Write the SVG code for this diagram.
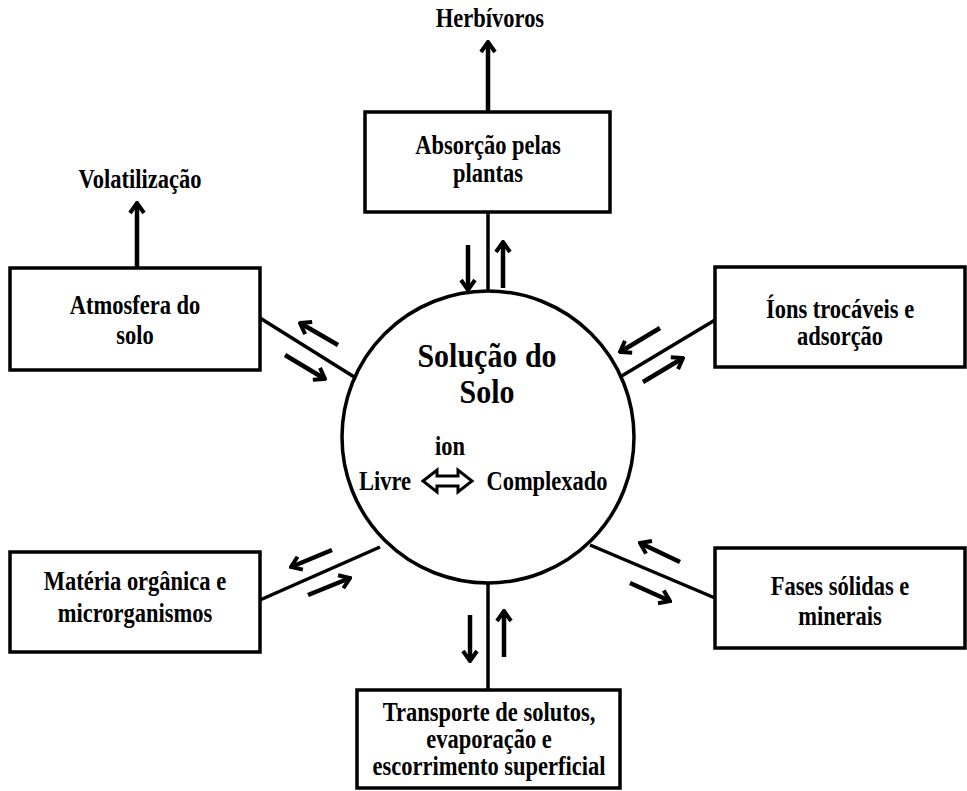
<svg xmlns="http://www.w3.org/2000/svg" width="967" height="791" viewBox="0 0 967 791">
<defs>
<marker id="ah" markerUnits="userSpaceOnUse" viewBox="-14 -10 16 20" refX="0" refY="0" markerWidth="16" markerHeight="20" orient="auto">
<path d="M-10,-7 L0,0 L-10,7" fill="none" stroke="#000" stroke-width="4" stroke-linejoin="miter"/>
</marker>
<style>
.box{fill:#fff;stroke:#000;stroke-width:3.5}
.t{font-family:"Liberation Serif","Times New Roman",serif;font-weight:bold;font-size:22.5px;fill:#000;text-anchor:middle}
.big{font-size:30px}
.ln{stroke:#000;stroke-width:3.5;fill:none}
.ar{stroke:#000;stroke-width:4.5;fill:none;marker-end:url(#ah)}
</style>
</defs>
<rect width="967" height="791" fill="#fff"/>
<g id="connectors">
<line class="ln" x1="488" y1="212" x2="488" y2="291"/>
<line class="ln" x1="488" y1="583" x2="488" y2="690"/>
<line class="ln" x1="260" y1="318" x2="359" y2="380"/>
<line class="ln" x1="715" y1="320" x2="615" y2="380"/>
<line class="ln" x1="260" y1="600" x2="380" y2="547"/>
<line class="ln" x1="590" y1="545" x2="715" y2="598"/>
<line class="ar" x1="488" y1="112" x2="488" y2="42"/>
<line class="ar" x1="137" y1="268" x2="137" y2="203"/>
<line class="ar" x1="468" y1="245" x2="468" y2="290"/>
<line class="ar" x1="503" y1="288" x2="503" y2="242"/>
<line class="ar" x1="470" y1="615" x2="470" y2="661"/>
<line class="ar" x1="504" y1="657" x2="504" y2="611"/>
<line class="ar" x1="338" y1="345" x2="300" y2="323"/>
<line class="ar" x1="285" y1="355" x2="325" y2="379"/>
<line class="ar" x1="660" y1="328" x2="620" y2="352"/>
<line class="ar" x1="643" y1="382" x2="683" y2="358"/>
<line class="ar" x1="332" y1="550" x2="291" y2="567"/>
<line class="ar" x1="308" y1="595" x2="350" y2="578"/>
<line class="ar" x1="680" y1="562" x2="640" y2="543"/>
<line class="ar" x1="630" y1="583" x2="670" y2="601"/>
</g>
<g id="solucao">
<circle cx="488" cy="437" r="146" fill="#fff" stroke="#000" stroke-width="3.5"/>
<text class="t big" transform="translate(487,367) scale(1,1.15)">Solução do</text>
<text class="t big" transform="translate(487,403) scale(1,1.15)">Solo</text>
<text class="t" transform="translate(450,455) scale(1,1.17)">ion</text>
<text class="t" transform="translate(385,490) scale(1,1.17)">Livre</text>
<text class="t" transform="translate(547,490) scale(1,1.17)">Complexado</text>
<path d="M423,481 L437,470 L437,476 L458,476 L458,470 L472,481 L458,492 L458,486 L437,486 L437,492 Z" fill="#fff" stroke="#000" stroke-width="3" stroke-linejoin="miter"/>
</g>
<g id="herbivoros"><text class="t" transform="translate(490,27) scale(1,1.17)">Herbívoros</text></g>
<g id="volatilizacao"><text class="t" transform="translate(140,188) scale(1,1.17)">Volatilização</text></g>
<g id="absorcao">
<rect class="box" x="365" y="112" width="245" height="100"/>
<text class="t" transform="translate(488,154) scale(1,1.17)">Absorção pelas</text>
<text class="t" transform="translate(488,182) scale(1,1.17)">plantas</text>
</g>
<g id="atmosfera">
<rect class="box" x="10" y="268" width="250" height="102"/>
<text class="t" transform="translate(135,314) scale(1,1.17)">Atmosfera do</text>
<text class="t" transform="translate(135,344) scale(1,1.17)">solo</text>
</g>
<g id="ions">
<rect class="box" x="715" y="267" width="250" height="100"/>
<text class="t" transform="translate(840,318) scale(1,1.17)">Íons trocáveis e</text>
<text class="t" transform="translate(840,345) scale(1,1.17)">adsorção</text>
</g>
<g id="materia">
<rect class="box" x="10" y="552" width="250" height="100"/>
<text class="t" transform="translate(135,590) scale(1,1.17)">Matéria orgânica e</text>
<text class="t" transform="translate(135,622) scale(1,1.17)">microrganismos</text>
</g>
<g id="fases">
<rect class="box" x="715" y="548" width="250" height="100"/>
<text class="t" transform="translate(840,595) scale(1,1.17)">Fases sólidas e</text>
<text class="t" transform="translate(840,625) scale(1,1.17)">minerais</text>
</g>
<g id="transporte">
<rect class="box" x="357" y="690" width="263" height="98"/>
<text class="t" transform="translate(489,721) scale(1,1.17)">Transporte de solutos,</text>
<text class="t" transform="translate(489,748) scale(1,1.17)">evaporação e</text>
<text class="t" transform="translate(489,775) scale(1,1.17)">escorrimento superficial</text>
</g>
</svg>
